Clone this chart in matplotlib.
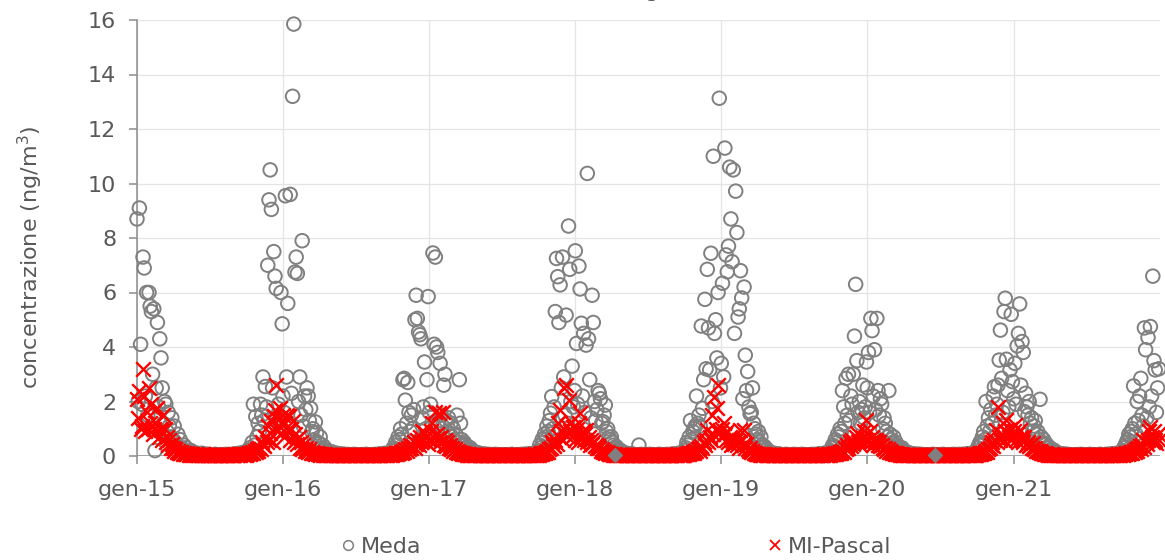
import numpy as np
import matplotlib.pyplot as plt
from matplotlib.lines import Line2D

# campioni ogni 3 giorni a partire dal 1 gennaio di ciascun anno
# righe: gen, feb, mar, apr, mag, giu-set (4 righe), ott, nov, dic
meda_2015 = """
8.7 2.0 9.1 4.1 1.9 7.3 6.9 2.2 6.0 1.5 6.0
5.5 5.3 3.0 5.4 0.2 2.5 4.9 1.8 4.3
3.6 2.5 1.2 2.0 1.9 0.9 1.6 1.1 0.7 1.4
0.6 1.1 0.5 0.4 0.8 0.3 0.6 0.3 0.2 0.4
0.2 0.3 0.1 0.15 0.1 0.2 0.1 0.1 0.05 0.1 0.1
0.08 0.05 0.06 0.1 0.04 0.05 0.07 0.03 0.05 0.06
0.04 0.05 0.03 0.04 0.06 0.05 0.03 0.04 0.05 0.04
0.03 0.05 0.04 0.06 0.03 0.04 0.05 0.04 0.06 0.05
0.07 0.05 0.08 0.06 0.1 0.07 0.09 0.12 0.08 0.1
0.1 0.2 0.15 0.3 0.2 0.5 1.9 0.4 1.45 0.7
1.2 0.9 1.9 1.5 2.9 1.3 2.55 1.8 7.0 9.4 10.5
9.05 2.5 7.5 6.6 6.15 1.4 1.9 1.1 6.0 4.85
"""
meda_2016 = """
2.2 1.6 9.55 2.9 5.6 1.2 9.6 2.3 13.2 15.85 6.75
7.3 6.7 2.0 2.9 1.5 7.9 1.1 2.2 1.7
2.5 2.2 1.3 1.75 0.9 1.0 0.6 1.25 0.85 0.5
0.45 0.7 0.3 0.4 0.2 0.3 0.15 0.2 0.1 0.15
0.1 0.15 0.08 0.1 0.06 0.1 0.05 0.08 0.06 0.05 0.07
0.05 0.04 0.06 0.03 0.05 0.04 0.03 0.05 0.06 0.04
0.03 0.05 0.04 0.03 0.04 0.05 0.03 0.04 0.06 0.05
0.04 0.03 0.05 0.04 0.03 0.05 0.06 0.04 0.05 0.07
0.05 0.06 0.08 0.06 0.1 0.08 0.07 0.1 0.12 0.09
0.2 0.3 0.2 0.5 0.4 0.7 0.6 1.0 0.8 2.8
2.85 2.05 1.2 2.7 1.6 0.9 1.5 1.0 1.7 5.0 5.9
5.05 4.55 4.45 4.3 1.4 1.8 3.45 1.0 2.8 5.85
"""
meda_2017 = """
1.6 1.9 1.2 7.45 4.1 7.3 4.0 3.8 1.3 3.4 1.5
1.1 2.6 3.0 1.3 0.9 1.4 0.8 1.2 0.7
1.0 0.6 0.8 1.5 0.5 2.8 1.2 0.6 0.45 0.5
0.4 0.3 0.35 0.2 0.3 0.15 0.2 0.1 0.15 0.1
0.12 0.08 0.1 0.06 0.08 0.05 0.07 0.06 0.05 0.04 0.06
0.04 0.05 0.03 0.04 0.06 0.03 0.05 0.04 0.03 0.04
0.05 0.03 0.04 0.05 0.04 0.03 0.05 0.04 0.06 0.03
0.04 0.05 0.03 0.04 0.05 0.04 0.06 0.05 0.04 0.06
0.07 0.05 0.06 0.08 0.07 0.09 0.1 0.08 0.12 0.1
0.2 0.4 0.3 0.6 0.5 0.8 0.7 1.1 0.9 1.3
1.57 2.18 1.0 1.8 5.3 7.25 6.58 4.9 6.28 2.5 7.3
2.9 1.5 5.17 1.2 8.44 6.85 2.0 3.3 1.8 2.4
"""
meda_2018 = """
7.53 4.13 1.9 6.97 6.13 4.87 2.2 4.5 1.6 4.07 10.37
4.3 2.8 1.4 5.9 4.9 2.0 1.3 1.7 2.4
2.3 2.1 1.2 1.26 1.5 1.87 0.9 1.0 0.7 0.6
0.7 0.5 0.4 0.3 0.35 0.2 0.25 0.15 0.2 0.1
0.12 0.1 0.08 0.1 0.06 0.08 0.05 0.06 0.07 0.05 0.04
0.05 0.04 0.4 0.03 0.06 0.05 0.03 0.04 0.05 0.03
0.04 0.06 0.04 0.03 0.05 0.04 0.03 0.05 0.04 0.06
0.03 0.05 0.04 0.03 0.05 0.04 0.06 0.04 0.05 0.06
0.05 0.07 0.06 0.08 0.07 0.1 0.08 0.09 0.12 0.1
0.2 0.3 0.5 0.4 0.7 1.3 0.6 0.9 1.0 1.1
2.2 1.2 1.5 1.1 4.77 1.75 2.8 5.75 3.2 6.85 4.7
3.16 7.44 2.0 11.0 4.5 5.0 3.6 6.0 13.13 2.5
"""
meda_2019 = """
3.4 6.34 2.9 11.3 7.38 6.76 7.7 10.6 8.7 7.13 10.5
4.5 9.72 8.2 5.1 5.4 6.8 5.8 2.1 6.2
3.7 2.4 3.1 1.8 1.55 1.6 2.5 1.2 1.0 0.8
0.6 0.9 0.5 0.7 0.4 0.3 0.35 0.2 0.25 0.15
0.15 0.1 0.12 0.08 0.1 0.06 0.08 0.05 0.07 0.06 0.05
0.04 0.05 0.03 0.06 0.04 0.05 0.03 0.04 0.05 0.04
0.06 0.03 0.04 0.05 0.03 0.04 0.06 0.05 0.03 0.04
0.05 0.04 0.03 0.05 0.04 0.06 0.05 0.04 0.06 0.05
0.07 0.06 0.08 0.07 0.09 0.1 0.08 0.12 0.1 0.14
0.2 0.3 0.4 0.3 0.6 0.5 0.8 0.7 1.0 0.9
2.4 1.8 1.2 2.85 1.5 3.0 1.3 2.2 1.9 3.0 4.4
6.3 3.5 1.6 2.0 1.2 1.7 2.6 1.4 1.8 3.45
"""
meda_2020 = """
2.5 3.8 1.6 5.05 4.6 2.2 3.9 1.7 5.05 2.4 1.5
2.1 1.9 1.0 1.4 1.2 0.9 0.7 2.4 0.8
0.6 0.5 0.7 0.4 0.5 0.3 0.35 0.25 0.2 0.3
0.2 0.15 0.1 0.15 0.1 0.08 0.1 0.06 0.08 0.05
0.06 0.05 0.07 0.04 0.05 0.06 0.04 0.05 0.03 0.04 0.05
0.04 0.03 0.05 0.04 0.06 0.03 0.04 0.05 0.04 0.03
0.05 0.04 0.06 0.05 0.03 0.04 0.05 0.04 0.03 0.05
0.04 0.06 0.03 0.05 0.04 0.05 0.06 0.04 0.05 0.06
0.05 0.07 0.06 0.08 0.07 0.09 0.1 0.08 0.11 0.12
0.2 0.3 0.4 0.5 0.4 0.7 0.9 0.6 2.0 1.1
1.4 0.9 1.7 1.2 2.2 2.54 1.5 1.9 2.6 3.52 4.62
2.85 1.6 5.3 5.79 3.55 2.4 1.8 3.16 5.2 2.73
"""
meda_2021 = """
2.1 3.4 1.9 4.04 4.5 5.58 2.6 4.2 3.8 1.63 2.3
1.8 1.5 2.0 1.2 1.4 0.9 1.1 1.3 0.8
0.9 0.6 2.08 0.7 0.5 0.6 0.4 0.45 0.3 0.35
0.3 0.2 0.25 0.15 0.2 0.1 0.12 0.08 0.1 0.06
0.08 0.06 0.05 0.07 0.04 0.06 0.05 0.04 0.05 0.03 0.04
0.05 0.04 0.03 0.05 0.04 0.06 0.03 0.04 0.05 0.04
0.03 0.05 0.04 0.06 0.04 0.03 0.05 0.04 0.03 0.05
0.04 0.06 0.05 0.03 0.04 0.05 0.06 0.04 0.05 0.07
0.06 0.05 0.08 0.07 0.09 0.08 0.1 0.12 0.1 0.13
0.2 0.3 0.4 0.5 0.6 0.8 0.7 0.9 1.0 2.57
1.2 0.8 2.0 1.3 2.2 2.85 1.5 1.1 4.7 3.9 1.4
4.35 1.8 4.75 2.2 6.6 3.5 3.16 1.6 2.5 3.2
"""

pascal_2015 = """
2.1 1.4 2.4 1.0 1.1 3.2 2.2 0.9 1.6 1.0 2.5
1.2 1.9 0.8 1.0 1.7 1.2 1.75 0.7 1.0
0.95 0.6 1.5 1.0 0.5 0.7 0.4 0.6 0.3 0.45
0.3 0.2 0.25 0.15 0.2 0.1 0.1 0.15 0.08 0.1
0.08 0.06 0.1 0.05 0.07 0.04 0.06 0.05 0.04 0.06 0.03
0.04 0.02 0.05 0.03 0.06 0.02 0.04 0.03 0.05 0.02
0.03 0.04 0.02 0.05 0.03 0.02 0.04 0.03 0.05 0.02
0.04 0.03 0.02 0.05 0.03 0.04 0.02 0.03 0.05 0.04
0.03 0.06 0.04 0.05 0.07 0.04 0.06 0.08 0.05 0.07
0.05 0.08 0.1 0.06 0.1 0.15 0.12 0.2 0.15 0.25
0.2 0.3 0.25 0.5 0.4 0.35 0.7 0.5 1.1 0.6 0.85
1.3 0.5 1.45 1.7 2.6 0.9 1.1 1.76 0.84 1.2
"""
pascal_2016 = """
1.5 0.7 1.2 1.5 0.95 1.45 0.6 1.0 1.3 0.5 0.8
0.6 0.45 0.7 0.3 0.5 0.25 0.4 0.2 0.3
0.2 0.15 0.25 0.1 0.15 0.1 0.12 0.08 0.1 0.06
0.08 0.05 0.07 0.04 0.06 0.05 0.03 0.05 0.04 0.03
0.04 0.03 0.05 0.02 0.04 0.03 0.02 0.04 0.03 0.02 0.03
0.03 0.02 0.04 0.03 0.02 0.05 0.03 0.02 0.04 0.03
0.02 0.03 0.04 0.02 0.03 0.05 0.02 0.03 0.04 0.02
0.03 0.04 0.02 0.03 0.05 0.03 0.02 0.04 0.03 0.05
0.04 0.03 0.05 0.04 0.06 0.05 0.04 0.06 0.05 0.07
0.05 0.08 0.06 0.1 0.08 0.12 0.1 0.15 0.12 0.2
0.15 0.25 0.2 0.3 0.25 0.4 0.3 0.35 0.5 0.3 0.45
0.6 0.4 0.7 0.5 0.9 0.6 0.84 0.5 0.7 0.45
"""
pascal_2017 = """
0.6 0.9 1.2 0.7 0.5 1.63 0.8 0.65 1.57 0.5 0.7
1.63 0.4 0.6 0.35 0.5 0.3 0.4 0.25 0.3
0.2 0.25 0.15 0.2 0.1 0.15 0.1 0.08 0.1 0.06
0.07 0.05 0.06 0.04 0.05 0.03 0.05 0.04 0.03 0.04
0.03 0.04 0.02 0.03 0.05 0.02 0.03 0.04 0.02 0.03 0.02
0.02 0.03 0.04 0.02 0.03 0.02 0.04 0.03 0.02 0.05
0.03 0.02 0.04 0.03 0.02 0.03 0.05 0.02 0.03 0.04
0.02 0.03 0.04 0.03 0.02 0.05 0.03 0.04 0.03 0.02
0.04 0.03 0.05 0.04 0.03 0.05 0.04 0.06 0.05 0.04
0.05 0.06 0.1 0.08 0.12 0.1 0.15 0.2 0.15 0.25
0.3 0.5 0.4 0.35 0.6 0.45 1.2 0.7 1.7 0.9 0.6
2.5 0.8 2.6 1.1 2.05 0.9 1.26 0.7 1.08 0.6
"""
pascal_2018 = """
0.8 1.0 0.5 1.2 1.57 0.7 0.9 0.6 0.8 0.95 0.5
0.7 0.4 0.6 0.45 0.5 0.35 0.4 0.3 0.35
0.3 0.2 0.25 0.15 0.2 0.1 0.15 0.1 0.08 0.06
0.06 0.05 0.07 0.04 0.05 0.04 0.03 0.05 0.04 0.03
0.04 0.03 0.02 0.04 0.03 0.05 0.02 0.03 0.04 0.02 0.03
0.03 0.02 0.04 0.03 0.05 0.02 0.03 0.04 0.02 0.03
0.04 0.02 0.03 0.05 0.03 0.02 0.04 0.03 0.02 0.04
0.03 0.05 0.02 0.03 0.04 0.03 0.02 0.05 0.03 0.04
0.03 0.04 0.05 0.03 0.04 0.06 0.04 0.05 0.04 0.05
0.05 0.06 0.08 0.1 0.08 0.12 0.1 0.15 0.12 0.18
0.2 0.25 0.3 0.2 0.35 0.3 0.5 0.4 0.6 0.95 0.5
0.7 0.6 1.5 0.8 2.18 1.0 1.75 2.6 0.83 0.9
"""
pascal_2019 = """
0.7 1.0 1.2 0.8 0.6 0.9 0.5 0.7 0.4 0.6 0.5
0.45 0.6 0.4 0.5 0.3 0.95 0.6 0.4 0.95
0.3 0.45 0.25 0.2 0.3 0.15 0.2 0.1 0.12 0.08
0.07 0.06 0.05 0.08 0.04 0.05 0.06 0.04 0.05 0.03
0.04 0.03 0.05 0.02 0.03 0.04 0.02 0.03 0.05 0.02 0.03
0.02 0.04 0.03 0.02 0.05 0.03 0.02 0.04 0.03 0.02
0.03 0.05 0.02 0.03 0.04 0.02 0.03 0.04 0.03 0.02
0.05 0.03 0.02 0.04 0.03 0.05 0.02 0.03 0.04 0.03
0.04 0.03 0.05 0.04 0.03 0.06 0.04 0.05 0.04 0.06
0.05 0.06 0.08 0.06 0.1 0.08 0.12 0.1 0.15 0.12
0.2 0.15 0.3 0.25 0.4 0.3 0.5 0.35 0.6 0.45 0.5
0.7 0.83 0.5 0.6 0.4 0.7 0.5 0.9 0.6 1.32
"""
pascal_2020 = """
0.8 0.6 0.9 0.5 0.7 0.4 0.6 0.6 0.5 0.4 0.5
0.35 0.4 0.3 0.25 0.3 0.2 0.25 0.15 0.2
0.15 0.1 0.12 0.08 0.1 0.06 0.08 0.05 0.06 0.05
0.04 0.05 0.03 0.04 0.02 0.03 0.04 0.02 0.03 0.02
0.03 0.02 0.04 0.02 0.03 0.02 0.03 0.04 0.02 0.03 0.02
0.02 0.03 0.02 0.04 0.02 0.03 0.02 0.03 0.04 0.02
0.03 0.02 0.04 0.03 0.02 0.03 0.05 0.02 0.03 0.02
0.04 0.03 0.02 0.03 0.04 0.02 0.03 0.05 0.03 0.04
0.03 0.04 0.05 0.03 0.04 0.05 0.04 0.06 0.04 0.05
0.05 0.06 0.08 0.1 0.08 0.12 0.1 0.15 0.2 0.15
0.25 0.3 0.4 0.5 0.35 0.6 0.95 0.5 1.8 0.7 0.6
0.8 1.2 0.6 0.9 1.32 0.83 0.7 1.0 0.6 0.8
"""
pascal_2021 = """
0.9 1.14 0.6 0.8 0.5 0.95 0.7 0.6 0.5 0.7 0.4
0.45 0.5 0.35 0.4 0.3 0.46 0.25 0.3 0.2
0.2 0.15 0.2 0.1 0.12 0.08 0.1 0.06 0.08 0.05
0.05 0.04 0.06 0.03 0.05 0.04 0.03 0.04 0.03 0.02
0.03 0.04 0.02 0.03 0.02 0.04 0.03 0.02 0.03 0.04 0.02
0.03 0.02 0.04 0.03 0.02 0.03 0.05 0.02 0.03 0.04
0.02 0.03 0.04 0.02 0.03 0.05 0.03 0.02 0.04 0.03
0.02 0.04 0.03 0.05 0.02 0.03 0.04 0.03 0.05 0.04
0.03 0.05 0.04 0.03 0.05 0.04 0.06 0.05 0.04 0.06
0.05 0.06 0.08 0.1 0.08 0.1 0.12 0.15 0.12 0.2
0.15 0.25 0.2 0.3 0.35 0.25 0.4 0.6 0.34 0.5 0.45
0.6 0.9 1.08 0.7 0.5 0.9 0.6 0.46 0.8 0.6
"""

years = [2015, 2016, 2017, 2018, 2019, 2020, 2021]
meda_years = [meda_2015, meda_2016, meda_2017, meda_2018, meda_2019, meda_2020, meda_2021]
pascal_years = [pascal_2015, pascal_2016, pascal_2017, pascal_2018, pascal_2019, pascal_2020, pascal_2021]
step_days = 3

# due valori isolati di una terza serie (rombi grigi)
extra_dates = ["2018-04-10", "2020-06-18"]
extra_vals = [0.05, 0.05]

tick_labels = ["gen-15", "gen-16", "gen-17", "gen-18", "gen-19", "gen-20", "gen-21"]


def build_series(texts):
    dates, vals = [], []
    for year, txt in zip(years, texts):
        v = np.array(txt.split(), dtype=float)
        start = np.datetime64(f"{year}-01-01")
        dates.append(start + np.arange(len(v)) * np.timedelta64(step_days, "D"))
        vals.append(v)
    return np.concatenate(dates), np.concatenate(vals)


meda_x, meda_y = build_series(meda_years)
pascal_x, pascal_y = build_series(pascal_years)

grey = "#808080"
text_col = "#595959"

fig = plt.figure(figsize=(11.65, 5.6), dpi=100)
ax = fig.add_axes([137 / 1165, 104 / 560, 1022.6 / 1165, 436 / 560])

ax.scatter(meda_x, meda_y, s=95, facecolors="none", edgecolors=grey,
           linewidths=1.4, clip_on=False, zorder=3)
ax.scatter(pascal_x, pascal_y, s=110, marker="x", color="#FF0000",
           linewidths=1.7, clip_on=False, zorder=4)
ax.scatter(np.array(extra_dates, dtype="datetime64[D]"), extra_vals, s=50,
           marker="D", color=grey, clip_on=False, zorder=5)

ax.set_xlim(np.datetime64("2015-01-01"), np.datetime64("2022-01-01"))
ax.set_ylim(0, 16)
ax.set_yticks(np.arange(0, 17, 2))
ax.set_xticks([np.datetime64(f"{y}-01-01") for y in years])
ax.set_xticklabels(tick_labels)

ax.grid(True, color="#E4E4E4", linewidth=0.9, zorder=0)
ax.set_axisbelow(True)
for side in ["top", "right", "bottom"]:
    ax.spines[side].set_visible(False)
ax.spines["left"].set_color("#8C8C8C")
ax.spines["left"].set_linewidth(1.1)
ax.axhline(0, color="#8C8C8C", linewidth=1.1, zorder=1)

ax.tick_params(axis="y", direction="out", length=6, width=1.1, color="#8C8C8C",
               labelsize=16, labelcolor=text_col, pad=9)
ax.tick_params(axis="x", direction="out", length=6, width=1.1, color="#8C8C8C",
               labelsize=16, labelcolor=text_col, pad=11)

fig.text(30 / 1165, 1 - 257 / 560, "concentrazione (ng/m$^3$)", rotation=90,
         ha="center", va="center", fontsize=16, color=text_col)

# titolo tagliato dal bordo superiore: restano visibili solo le discendenti
fig.text(0.545, 1 + 3 / 560, "concentrazione giornaliera (b)", ha="center",
         va="baseline", fontsize=16, color=text_col)

handles = [
    Line2D([], [], linestyle="none", marker="o", markersize=7,
           markerfacecolor="none", markeredgecolor=grey, markeredgewidth=1.1),
    Line2D([], [], linestyle="none", marker="x", markersize=7,
           color="#FF0000", markeredgewidth=1.3),
]
fig.legend(handles, ["Meda", "MI-Pascal"], ncol=2, loc="center",
           bbox_to_anchor=(0.528, 0.024), frameon=False, fontsize=16,
           labelcolor=text_col, columnspacing=15.5, handletextpad=0.2,
           handlelength=0.8)

fig.savefig("out.png", dpi=100)
